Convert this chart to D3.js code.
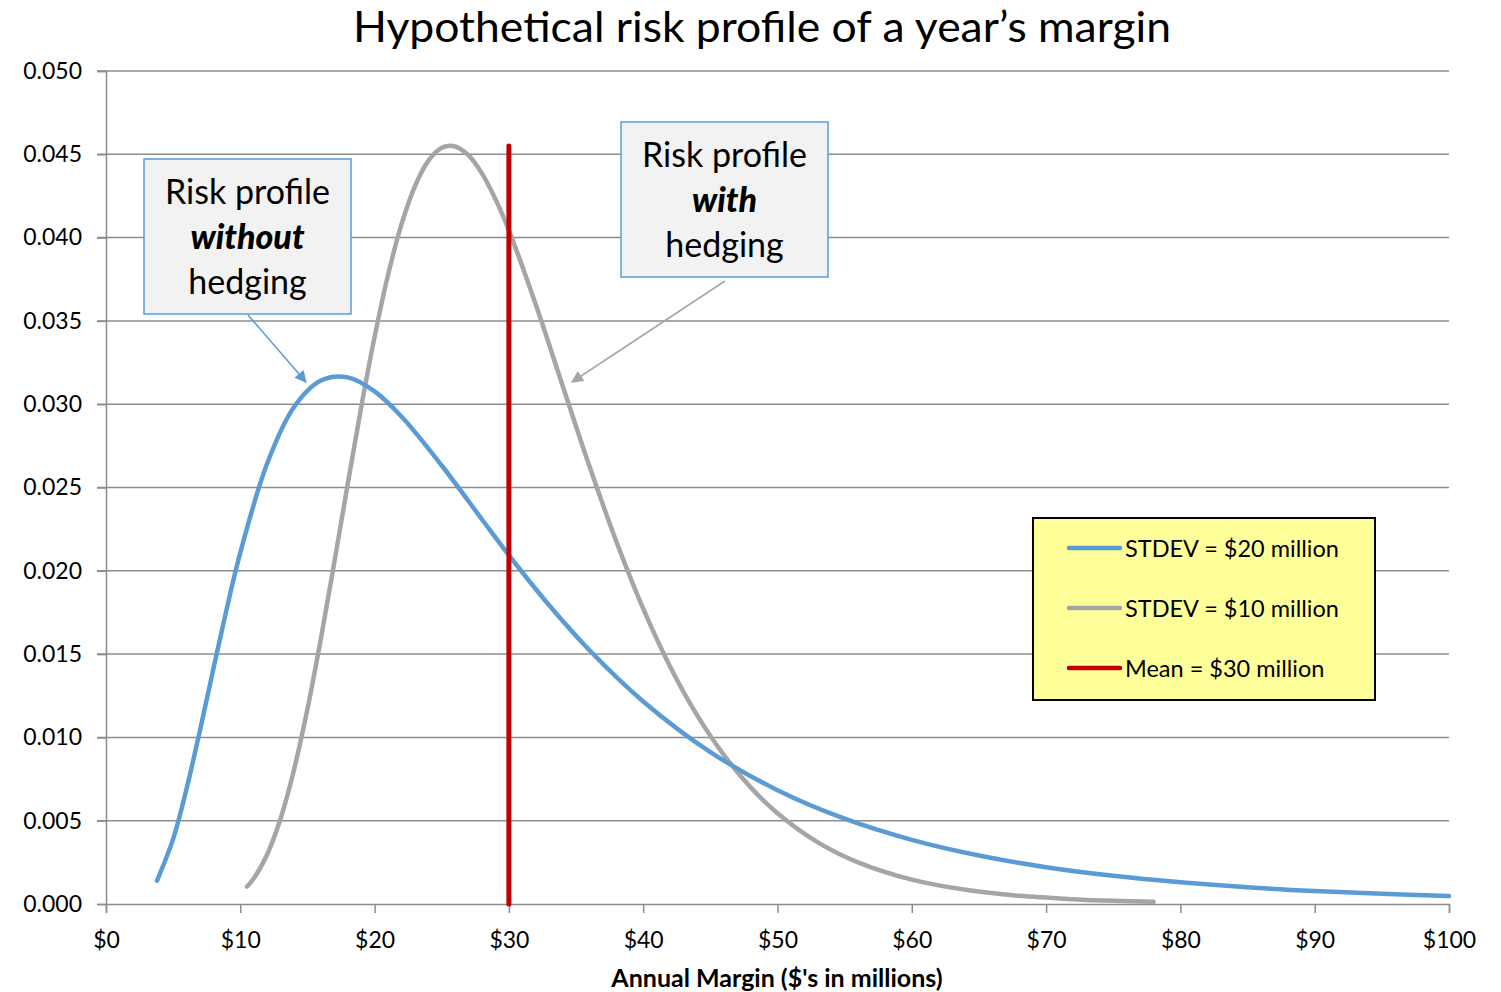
<!DOCTYPE html>
<html>
<head>
<meta charset="utf-8">
<script src="https://cdn.jsdelivr.net/npm/d3@7"></script>
<style>
  body { margin: 0; background: #fff; }
  svg { font-family: Lato, "Noto Sans", sans-serif; }
</style>
</head>
<body>
<script>
// data
var marginBlue = [3.8, 5, 6, 7, 8, 9, 10, 12, 14, 16, 18, 20, 22, 25, 28, 30, 33, 36, 40, 45, 50, 55, 60, 65, 70, 75, 80, 85, 90, 95, 100];
var densityBlue = [0.00140, 0.00391, 0.00692, 0.01043, 0.01414, 0.01776, 0.02109, 0.02644, 0.02983, 0.03142, 0.03161, 0.03077, 0.02926, 0.02632, 0.02308, 0.02094, 0.01793, 0.01523, 0.01216, 0.00912, 0.00683, 0.00512, 0.00385, 0.00291, 0.00221, 0.00169, 0.00130, 0.00100, 0.00078, 0.00061, 0.00048];
var marginGrey = [10.5, 11, 12, 13, 14, 15, 16, 17, 18, 19, 20, 21, 22, 23, 24, 25, 26, 27, 28, 29, 30, 32, 34, 36, 38, 40, 42, 44, 46, 48, 50, 53, 56, 60, 64, 68, 72, 75, 78];
var densityGrey = [0.00105, 0.00153, 0.00297, 0.00513, 0.00806, 0.01170, 0.01592, 0.02050, 0.02522, 0.02981, 0.03404, 0.03775, 0.04079, 0.04308, 0.04461, 0.04539, 0.04547, 0.04493, 0.04384, 0.04231, 0.04043, 0.03598, 0.03111, 0.02627, 0.02176, 0.01773, 0.01426, 0.01135, 0.00895, 0.00700, 0.00545, 0.00370, 0.00250, 0.00146, 0.00085, 0.00049, 0.00029, 0.00019, 0.00013];
var meanMargin = [30, 30];
var meanDensity = [0, 0.0455];

var xTicks = [0, 10, 20, 30, 40, 50, 60, 70, 80, 90, 100];
var yTicks = [0, 0.005, 0.010, 0.015, 0.020, 0.025, 0.030, 0.035, 0.040, 0.045, 0.050];
var legendLabels = ["STDEV = $20 million", "STDEV = $10 million", "Mean = $30 million"];
var legendColors = ["#5B9BD5", "#A5A5A5", "#C00000"];

var width = 1501,
    height = 992;
var plotLeft = 106, plotRight = 1449, plotTop = 71, plotBottom = 904;

var svg = d3.select("body")
  .append("svg")
    .attr("width", width)
    .attr("height", height);

var x = d3.scaleLinear().domain([0, 100]).range([plotLeft, plotRight]);
var y = d3.scaleLinear().domain([0, 0.05]).range([plotBottom, plotTop]);

// title
svg.append("text")
  .attr("x", 762)
  .attr("y", 42)
  .attr("text-anchor", "middle")
  .attr("textLength", 818)
  .attr("lengthAdjust", "spacingAndGlyphs")
  .style("font-size", "42px")
  .style("fill", "#000")
  .text("Hypothetical risk profile of a year\u2019s margin");

// gridlines
svg.append("g")
  .selectAll("line")
  .data(yTicks.slice(1))
  .enter()
  .append("line")
    .attr("x1", plotLeft - 9)
    .attr("x2", plotRight)
    .attr("y1", function(d) { return y(d); })
    .attr("y2", function(d) { return y(d); })
    .attr("stroke", "#8C8C8C")
    .attr("stroke-width", 1.5);

// y axis
var yAxis = svg.append("g")
  .attr("transform", "translate(" + plotLeft + ",0)")
  .call(d3.axisLeft(y).tickValues(yTicks).tickFormat(d3.format(".3f")).tickSize(9).tickPadding(15));
yAxis.select(".domain").attr("stroke", "#8C8C8C").attr("stroke-width", 1.5);
yAxis.selectAll(".tick line").attr("stroke", "#8C8C8C").attr("stroke-width", 1.5);
yAxis.selectAll("text").style("font-size", "23px").style("font-family", "Lato, sans-serif").attr("fill", "#000");

// x axis
var xAxis = svg.append("g")
  .attr("transform", "translate(0," + plotBottom + ")")
  .call(d3.axisBottom(x).tickValues(xTicks).tickFormat(function(d) { return "$" + d; }).tickSize(9).tickPadding(19));
xAxis.select(".domain").attr("stroke", "#8C8C8C").attr("stroke-width", 1.5);
xAxis.selectAll(".tick line").attr("stroke", "#8C8C8C").attr("stroke-width", 1.5);
xAxis.selectAll("text").style("font-size", "23px").style("font-family", "Lato, sans-serif").attr("fill", "#000");

svg.append("text")
  .attr("x", 777)
  .attr("y", 987)
  .attr("text-anchor", "middle")
  .style("font-size", "25px")
  .style("font-weight", "bold")
  .text("Annual Margin ($'s in millions)");

// curves
var line = d3.line()
  .x(function(d) { return x(d[0]); })
  .y(function(d) { return y(d[1]); })
  .curve(d3.curveCatmullRom);

svg.append("path")
  .datum(d3.zip(marginGrey, densityGrey))
  .attr("d", line)
  .attr("fill", "none")
  .attr("stroke", "#A5A5A5")
  .attr("stroke-width", 4.5)
  .attr("stroke-linecap", "round");

svg.append("path")
  .datum(d3.zip(marginBlue, densityBlue))
  .attr("d", line)
  .attr("fill", "none")
  .attr("stroke", "#5B9BD5")
  .attr("stroke-width", 4.5)
  .attr("stroke-linecap", "round");

svg.append("path")
  .datum(d3.zip(meanMargin, meanDensity))
  .attr("d", d3.line().x(function(d) { return x(d[0]); }).y(function(d) { return y(d[1]); }))
  .attr("fill", "none")
  .attr("stroke", "#C00000")
  .attr("stroke-width", 5)
  .attr("stroke-linecap", "round");

// arrow markers
var defs = svg.append("defs");
function marker(id, color) {
  defs.append("marker")
    .attr("id", id)
    .attr("viewBox", "0 0 10 10")
    .attr("refX", 9)
    .attr("refY", 5)
    .attr("markerWidth", 14)
    .attr("markerHeight", 12)
    .attr("markerUnits", "userSpaceOnUse")
    .attr("orient", "auto")
    .append("path")
      .attr("d", "M0,0 L10,5 L0,10 Z")
      .attr("fill", color);
}
marker("arrowBlue", "#5B9BD5");
marker("arrowGrey", "#A5A5A5");

// callouts
function callout(bx, by, bw, bh, lines, ax1, ay1, ax2, ay2, color, markerId) {
  svg.append("line")
    .attr("x1", ax1).attr("y1", ay1)
    .attr("x2", ax2).attr("y2", ay2)
    .attr("stroke", color)
    .attr("stroke-width", 1.5)
    .attr("marker-end", "url(#" + markerId + ")");
  svg.append("rect")
    .attr("x", bx).attr("y", by)
    .attr("width", bw).attr("height", bh)
    .attr("fill", "#F2F2F2")
    .attr("stroke", "#5B9BD5")
    .attr("stroke-width", 1.5);
  lines.forEach(function(l, i) {
    svg.append("text")
      .attr("x", bx + bw / 2)
      .attr("y", by + 45 + i * 45)
      .attr("text-anchor", "middle")
      .style("font-size", "34px")
      .style("font-weight", l.bold ? "900" : "normal")
      .style("font-style", l.bold ? "italic" : "normal")
      .text(l.t);
  });
}
callout(144, 159, 207, 155, [{t: "Risk profile"}, {t: "without", bold: true}, {t: "hedging"}], 248, 315, 306, 382, "#5B9BD5", "arrowBlue");
callout(621, 122, 207, 155, [{t: "Risk profile"}, {t: "with", bold: true}, {t: "hedging"}], 725, 281, 572, 382, "#A5A5A5", "arrowGrey");

// legend
var legend = svg.append("g");
legend.append("rect")
  .attr("x", 1033).attr("y", 518)
  .attr("width", 342).attr("height", 182)
  .attr("fill", "#FFFF99")
  .attr("stroke", "#000")
  .attr("stroke-width", 2);
var items = legend.selectAll("g.item")
  .data(legendLabels)
  .enter()
  .append("g")
  .attr("class", "item")
  .attr("transform", function(d, i) { return "translate(0," + (548 + i * 60) + ")"; });
items.append("line")
  .attr("x1", 1069).attr("x2", 1120)
  .attr("y1", 0).attr("y2", 0)
  .attr("stroke", function(d, i) { return legendColors[i]; })
  .attr("stroke-width", 4.5)
  .attr("stroke-linecap", "round");
items.append("text")
  .attr("x", 1125)
  .attr("y", 9)
  .style("font-size", "23.5px")
  .text(function(d) { return d; });
</script>
</body>
</html>
